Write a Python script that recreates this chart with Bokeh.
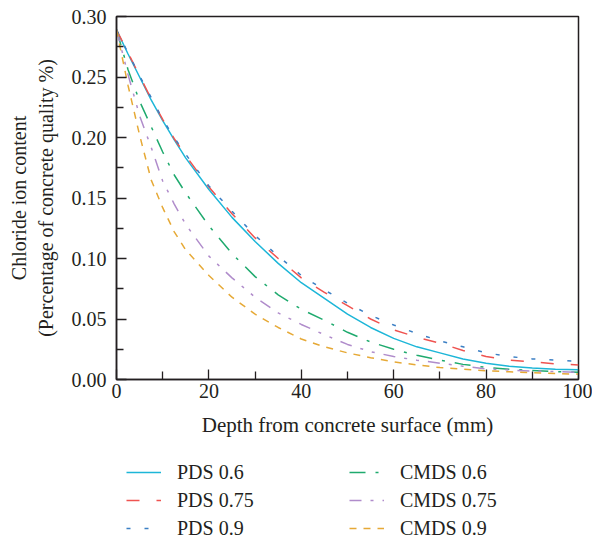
from bokeh.plotting import figure
from bokeh.layouts import column
from bokeh.models import Range1d, FixedTicker, Legend, LegendItem
from bokeh.embed import file_html
from bokeh.resources import INLINE

# ---- data ----
depth = [0, 2.5, 5, 7.5, 10, 12.5, 15, 20, 25, 30, 35, 40, 45, 50, 55, 60,
         65, 70, 75, 80, 85, 90, 95, 100]
pds_06 = [0.289, 0.269, 0.250, 0.231, 0.214, 0.198, 0.183, 0.157, 0.134, 0.114,
          0.096, 0.080, 0.067, 0.054, 0.043, 0.034, 0.027, 0.022, 0.017, 0.0135,
          0.011, 0.0095, 0.0085, 0.008]
pds_075 = [0.289, 0.270, 0.251, 0.232, 0.215, 0.199, 0.185, 0.159, 0.137, 0.117,
           0.100, 0.084, 0.072, 0.061, 0.050, 0.041, 0.035, 0.030, 0.024, 0.019,
           0.016, 0.0145, 0.013, 0.012]
pds_09 = [0.289, 0.270, 0.251, 0.233, 0.215, 0.200, 0.186, 0.160, 0.139, 0.119,
          0.102, 0.086, 0.074, 0.063, 0.053, 0.045, 0.038, 0.032, 0.027, 0.022,
          0.019, 0.017, 0.016, 0.015]
cmds_06 = [0.289, 0.256, 0.230, 0.209, 0.188, 0.169, 0.154, 0.127, 0.104, 0.085,
           0.070, 0.058, 0.049, 0.039, 0.031, 0.025, 0.020, 0.016, 0.0125, 0.010,
           0.0085, 0.0075, 0.0065, 0.006]
cmds_075 = [0.289, 0.252, 0.218, 0.192, 0.164, 0.145, 0.128, 0.102, 0.084, 0.068,
            0.055, 0.0455, 0.037, 0.029, 0.023, 0.019, 0.016, 0.0135, 0.011, 0.0088,
            0.0078, 0.007, 0.0065, 0.006]
cmds_09 = [0.289, 0.243, 0.202, 0.165, 0.142, 0.122, 0.107, 0.086, 0.068, 0.054,
           0.043, 0.0335, 0.027, 0.022, 0.018, 0.0146, 0.012, 0.0099, 0.0085, 0.0072,
           0.0064, 0.0056, 0.005, 0.0044]

x_ticks = [0, 20, 40, 60, 80, 100]
x_minor = [10, 30, 50, 70, 90]
y_ticks = [0.0, 0.05, 0.10, 0.15, 0.20, 0.25, 0.30]
y_minor = [0.025, 0.075, 0.125, 0.175, 0.225, 0.275]
y_tick_labels = ["0.00", "0.05", "0.10", "0.15", "0.20", "0.25", "0.30"]

series = [
    ("PDS 0.6", pds_06, "#1db6d8", "solid"),
    ("PDS 0.75", pds_075, "#ef5350", "13 17"),
    ("PDS 0.9", pds_09, "#3b7fc4", "4 14"),
    ("CMDS 0.6", cmds_06, "#1faa6e", "16 10 3 10"),
    ("CMDS 0.75", cmds_075, "#b08ccb", "12 9 3 9 3 9"),
    ("CMDS 0.9", cmds_09, "#e6a936", "7 7"),
]

FONT = "Liberation Serif"
TXT = "#231f20"

# ---------------- main chart ----------------
p = figure(width=592, height=445, output_backend="svg", toolbar_location=None,
           x_range=Range1d(0, 100), y_range=Range1d(0, 0.30),
           min_border_left=116, min_border_right=14, min_border_top=16,
           min_border_bottom=66)
p.grid.visible = False
p.outline_line_color = "#231f20"
p.outline_line_width = 1.5
p.background_fill_color = "white"
p.border_fill_color = "white"

for name, vals, col, dash in series:
    p.line(depth, vals, line_color=col, line_width=1.5, line_dash=dash)

for ax in (p.xaxis[0], p.yaxis[0]):
    ax.axis_line_color = "#231f20"
    ax.axis_line_width = 1.5
    ax.major_tick_line_color = "#231f20"
    ax.minor_tick_line_color = "#231f20"
    ax.major_tick_line_width = 1.3
    ax.minor_tick_line_width = 1.3
    ax.major_tick_out = 0
    ax.minor_tick_out = 0
    ax.major_label_text_font = FONT
    ax.major_label_text_font_size = "20px"
    ax.major_label_text_color = TXT
    ax.axis_label_text_font = FONT
    ax.axis_label_text_font_style = "normal"
    ax.axis_label_text_color = TXT

p.xaxis.ticker = FixedTicker(ticks=x_ticks, minor_ticks=x_minor)
p.xaxis.major_tick_in = 10
p.xaxis.minor_tick_in = 8
p.xaxis.major_label_standoff = 4
p.xaxis.axis_label = "Depth from concrete surface (mm)"
p.xaxis.axis_label_text_font_size = "21px"
p.xaxis.axis_label_standoff = 12

p.yaxis.ticker = FixedTicker(ticks=y_ticks, minor_ticks=y_minor)
p.yaxis.major_label_overrides = {t: s for t, s in zip(y_ticks, y_tick_labels)}
p.yaxis.major_tick_in = 10
p.yaxis.minor_tick_in = 7
p.yaxis.major_label_standoff = 10
p.yaxis.axis_label = "Chloride ion content\n(Percentage of concrete quality %)"
p.yaxis.axis_label_text_font_size = "20px"
p.yaxis.axis_label_standoff = 12

# ---------------- legend strip below the chart ----------------
p2 = figure(width=592, height=97, output_backend="svg", toolbar_location=None,
            x_range=Range1d(0, 100), y_range=Range1d(0, 0.30),
            x_axis_location=None, y_axis_location=None, min_border=0,
            outline_line_color=None)
p2.grid.visible = False
p2.background_fill_color = "white"
p2.border_fill_color = "white"

items = []
for name, vals, col, dash in series:
    r = p2.line(depth, vals, line_color=col, line_width=1.5, line_dash=dash,
                visible=False)
    items.append(LegendItem(label=name, renderers=[r]))

legend = Legend(items=items, location=(10, 0), orientation="vertical",
                nrows=3, ncols=2, border_line_color=None,
                background_fill_alpha=0, inactive_fill_alpha=0, padding=0,
                margin=0, spacing=0, label_height=28, glyph_height=28,
                glyph_width=35, label_width=172, label_standoff=16,
                label_text_font=FONT, label_text_font_size="20px",
                label_text_color=TXT)
p2.add_layout(legend)

layout = column(p, p2, spacing=0)
open("out.html", "w").write(file_html(layout, INLINE))
